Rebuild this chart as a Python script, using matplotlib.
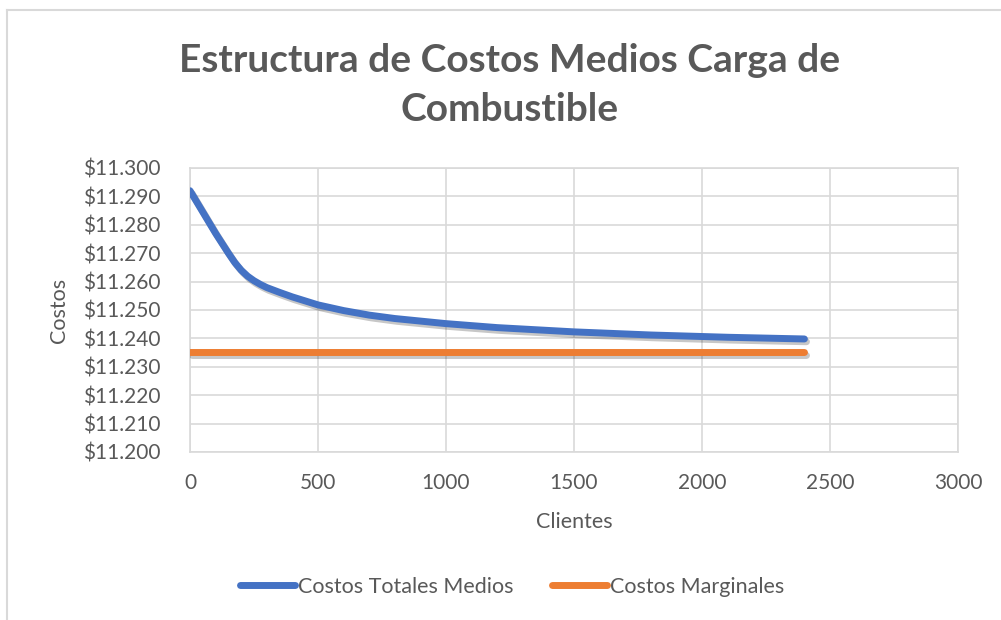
import matplotlib
matplotlib.use('Agg')
from matplotlib import pyplot as plt
from matplotlib import patheffects as pe
from matplotlib.ticker import FuncFormatter, MultipleLocator

# data
clientes = [0, 50, 100, 150, 175, 200, 225, 250, 275, 300, 350, 400, 500, 600,
            700, 800, 1000, 1200, 1500, 1800, 2100, 2400]
costos_totales_medios = [11292, 11284.5, 11277, 11270, 11266.7, 11264, 11261.9,
                         11260.3, 11259, 11257.9, 11256.2, 11254.6, 11251.8,
                         11249.8, 11248.2, 11247, 11245.2, 11243.8, 11242.3,
                         11241.2, 11240.4, 11239.8]
clientes_marg = [0, 2400]
costos_marginales = [11235.3, 11235.3]

titulo = 'Estructura de Costos Medios Carga de\nCombustible'
gris = '#595959'
grilla = '#d9d9d9'

plt.rcParams['font.family'] = ['Lato', 'DejaVu Sans']

fig = plt.figure(figsize=(10.01, 6.20), dpi=100)
W, H = 1001, 620
ax = fig.add_axes([190 / W, 1 - 452 / H, (958 - 190) / W, (452 - 168) / H])

sombra = [pe.SimpleLineShadow(offset=(1.5, -2), shadow_color='k', alpha=0.22),
          pe.Normal()]
ax.plot(clientes, costos_totales_medios, color='#4472c4', lw=5,
        solid_capstyle='round', solid_joinstyle='round', path_effects=sombra,
        label='Costos Totales Medios', zorder=3)
ax.plot(clientes_marg, costos_marginales, color='#ed7d31', lw=5,
        solid_capstyle='round', path_effects=sombra,
        label='Costos Marginales', zorder=3)

ax.set_xlim(0, 3000)
ax.set_ylim(11200, 11300)
ax.xaxis.set_major_locator(MultipleLocator(500))
ax.yaxis.set_major_locator(MultipleLocator(10))
ax.yaxis.set_major_formatter(FuncFormatter(
    lambda v, p: '$' + '{:,.0f}'.format(v).replace(',', '.')))
ax.grid(True, color=grilla, lw=1.2)
ax.set_axisbelow(True)
for s in ax.spines.values():
    s.set_color(grilla)
    s.set_linewidth(1.2)
ax.tick_params(length=0, labelsize=15, colors=gris)
ax.tick_params(axis='x', pad=15)
ax.tick_params(axis='y', pad=21)

ax.set_xlabel('Clientes', fontsize=15.5, color=gris, labelpad=14)
ax.set_ylabel('Costos', fontsize=15.5, color=gris, labelpad=10)

fig.text(510 / W, 1 - 85 / H, titulo, ha='center', va='center', fontsize=28,
         fontweight='bold', color=gris, linespacing=1.45)

leg = fig.legend(loc='center', bbox_to_anchor=(512 / W, 1 - 587 / H), ncol=2,
                 frameon=False, fontsize=15.5, handlelength=2.55, handletextpad=0.15,
                 columnspacing=1.8)
for t in leg.get_texts():
    t.set_color(gris)
for h in leg.get_lines():
    h.set_path_effects([])
    h.set_solid_capstyle('round')

# chart area border (only left and top edges visible in the reference)
fig.add_artist(plt.Line2D([7 / W, 7 / W], [0, 1 - 10 / H], color=grilla,
                          lw=1.5, transform=fig.transFigure))
fig.add_artist(plt.Line2D([7 / W, 1], [1 - 10 / H, 1 - 10 / H], color=grilla,
                          lw=1.5, transform=fig.transFigure))

plt.savefig('out.png', dpi=100, facecolor='white')
